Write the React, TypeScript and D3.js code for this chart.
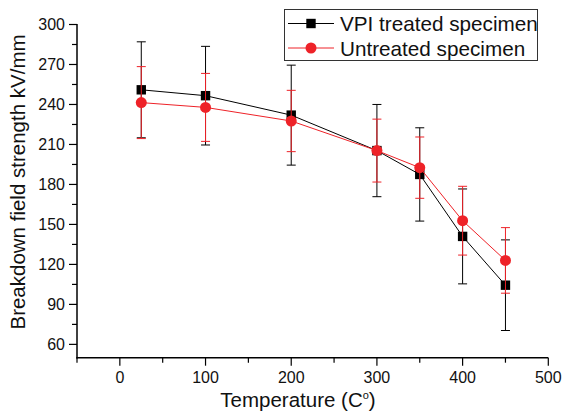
import React from "react";
import * as d3 from "d3";

const temps = [25, 100, 200, 300, 350, 400, 450];
const vpiMean = [251, 246.6, 232, 205.4, 187.5, 141, 104.4];
const vpiErr = [36, 37, 37.5, 34.6, 35, 35.6, 34];
const untMean = [241.4, 237.8, 227.6, 205.4, 192.6, 152.8, 123];
const untErr = [27, 25.5, 23, 23.6, 23, 25.8, 24.6];
const xTicks = [0, 100, 200, 300, 400, 500];
const yTicks = [60, 90, 120, 150, 180, 210, 240, 270, 300];
const seriesNames = ["VPI treated specimen", "Untreated specimen"];

const W = 563, H = 414;
const FONT = "'Liberation Sans', Arial, sans-serif";
const RED = "#ee2228";

export default function App() {
  const x = d3.scaleLinear().domain([-50, 500]).range([77, 548.3]);
  const y = d3.scaleLinear().domain([50, 300]).range([357.7, 24.5]);
  const xMinor = d3.range(-50, 501, 50);
  const yMinor = d3.range(60, 301, 15);
  const line = d3.line<[number, number]>().x(d => x(d[0])).y(d => y(d[1]));

  const vpi = temps.map((t, i) => [t, vpiMean[i]] as [number, number]);
  const unt = temps.map((t, i) => [t, untMean[i]] as [number, number]);

  const errBars = (means: number[], errs: number[], color: string, key: string) =>
    temps.map((t, i) => {
      const cx = x(t);
      const top = y(means[i] + errs[i]);
      const bot = y(means[i] - errs[i]);
      return (
        <g key={key + i} stroke={color} strokeWidth={1}>
          <line x1={cx} x2={cx} y1={top} y2={bot} />
          <line x1={cx - 4.5} x2={cx + 4.5} y1={top} y2={top} />
          <line x1={cx - 4.5} x2={cx + 4.5} y1={bot} y2={bot} />
        </g>
      );
    });

  return (
    <svg width={W} height={H} style={{ position: "absolute", left: 0, top: 0 }} fontFamily={FONT}>
      <rect width={W} height={H} fill="white" />
      {/* axes */}
      <line x1={77} x2={77} y1={24} y2={358.5} stroke="black" strokeWidth={1.5} />
      <line x1={76.3} x2={548.3} y1={357.7} y2={357.7} stroke="black" strokeWidth={1.5} />
      {xMinor.map(v => {
        const major = xTicks.includes(v);
        return <line key={"xt" + v} x1={x(v)} x2={x(v)} y1={357.7} y2={357.7 + (major ? 8 : 5)} stroke="black" strokeWidth={1.2} />;
      })}
      {yMinor.map(v => {
        const major = yTicks.includes(v);
        return <line key={"yt" + v} x1={77} x2={77 - (major ? 8 : 5)} y1={y(v)} y2={y(v)} stroke="black" strokeWidth={1.2} />;
      })}
      {xTicks.map(v => (
        <text key={"xl" + v} x={x(v)} y={383.3} textAnchor="middle" fontSize={16} fill="#111">{v}</text>
      ))}
      {yTicks.map(v => (
        <text key={"yl" + v} x={65} y={y(v) + 5.5} textAnchor="end" fontSize={16} fill="#111">{v}</text>
      ))}
      <text x={298} y={406.5} textAnchor="middle" fontSize={20.5} fill="#111">
        Temperature (C<tspan dy={-8} fontSize={11}>o</tspan><tspan dy={8}>)</tspan>
      </text>
      <text transform={`translate(25,${182}) rotate(-90)`} textAnchor="middle" fontSize={20.5} fill="#111">
        Breakdown field strength kV/mm
      </text>

      {/* series */}
      <path d={line(vpi) || ""} fill="none" stroke="black" strokeWidth={1} />
      {errBars(vpiMean, vpiErr, "black", "ve")}
      {vpi.map((d, i) => (
        <rect key={"vs" + i} x={x(d[0]) - 4.7} y={y(d[1]) - 4.7} width={9.4} height={9.4} fill="black" />
      ))}
      <path d={line(unt) || ""} fill="none" stroke={RED} strokeWidth={1} />
      {errBars(untMean, untErr, RED, "ue")}
      {unt.map((d, i) => (
        <circle key={"uc" + i} cx={x(d[0])} cy={y(d[1])} r={5.5} fill={RED} />
      ))}

      {/* legend */}
      <rect x={284.5} y={9.5} width={253} height={51} fill="white" stroke="#333" strokeWidth={1} />
      <line x1={288} x2={334} y1={23.5} y2={23.5} stroke="black" strokeWidth={1} />
      <rect x={311 - 4.7} y={23.5 - 4.7} width={9.4} height={9.4} fill="black" />
      <text x={340} y={31} fontSize={20.7} fill="#111">{seriesNames[0]}</text>
      <line x1={288} x2={334} y1={48} y2={48} stroke={RED} strokeWidth={1} />
      <circle cx={311} cy={48} r={5.5} fill={RED} />
      <text x={340} y={55.5} fontSize={20.7} fill="#111">{seriesNames[1]}</text>
    </svg>
  );
}
